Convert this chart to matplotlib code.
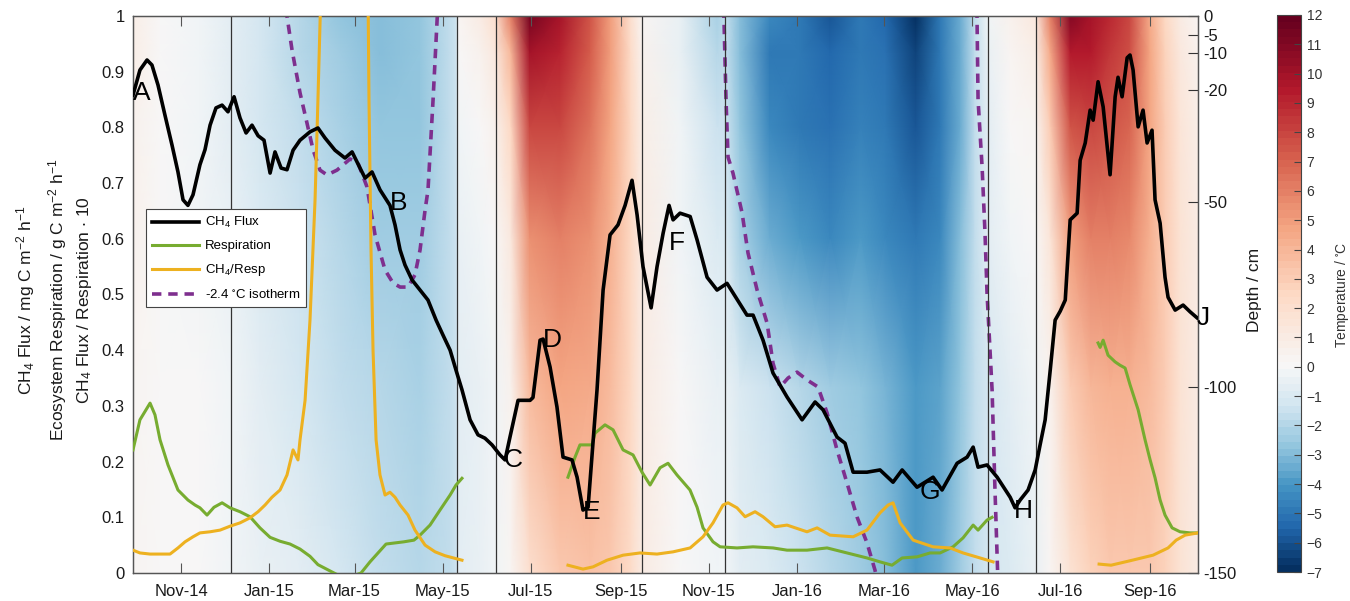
import numpy as np
import matplotlib
matplotlib.use("Agg")
import matplotlib.pyplot as plt
import matplotlib.dates as mdates
from matplotlib.colors import ListedColormap
from matplotlib.lines import Line2D

plt.rcParams["font.family"] = ["Liberation Sans", "DejaVu Sans"]
plt.rcParams["mathtext.fontset"] = "custom"
plt.rcParams["mathtext.rm"] = "Liberation Sans"
plt.rcParams["mathtext.it"] = "Liberation Sans:italic"
plt.rcParams["mathtext.default"] = "regular"

# all times are days counted from 1 Nov 2014
t0 = mdates.date2num(np.datetime64("2014-11-01"))

# ---- soil temperature field (deg C), one profile per date ----
temp_depths = [0, -10, -30, -60, -100, -150]
temp_days = [-33, -14.5, 13, 34.6, 54.6, 82, 110, 137.6, 165, 186, 190, 192,
             207, 217, 228, 241, 262, 283, 297, 311, 319, 345, 371, 377,
             386.5, 407, 428, 449, 470, 487, 508, 525, 539, 549, 558, 573,
             591, 601, 615, 629, 642.5, 656, 670, 680.5, 691, 703]
temp_profiles = [
    [0.8, 0.7, 0.6, 0.5, 0.4, 0.3],
    [0.1, 0.1, 0.1, 0.1, 0.1, 0.1],
    [-0.3, -0.3, -0.2, -0.1, 0.0, 0.0],
    [-0.8, -0.8, -0.6, -0.4, -0.3, -0.2],
    [-1.3, -1.3, -1.1, -0.9, -0.6, -0.4],
    [-2.0, -2.0, -1.8, -1.5, -1.1, -0.8],
    [-2.6, -2.5, -2.3, -2.0, -1.6, -1.3],
    [-3.0, -2.9, -2.8, -2.5, -2.0, -1.7],
    [-2.8, -2.8, -2.7, -2.5, -2.2, -2.0],
    [-1.8, -1.8, -1.8, -1.8, -1.8, -1.7],
    [-1.5, -1.5, -1.5, -1.5, -1.5, -1.5],
    [0.3, 0.1, -0.2, -0.5, -0.6, -0.6],
    [1.0, 0.6, 0.1, -0.3, -0.4, -0.4],
    [2.0, 1.3, 0.5, 0.0, -0.1, -0.2],
    [6.0, 4.0, 2.5, 1.3, 0.6, 0.3],
    [11.5, 10.0, 8.0, 5.5, 3.8, 2.0],
    [10.0, 9.2, 8.0, 6.0, 4.6, 3.3],
    [7.5, 7.2, 6.5, 5.5, 4.5, 3.6],
    [5.0, 5.0, 4.8, 4.3, 3.8, 3.2],
    [2.0, 2.2, 2.4, 2.5, 2.4, 2.2],
    [0.4, 0.6, 0.8, 1.0, 1.0, 1.0],
    [-0.5, -0.4, -0.3, -0.1, 0.0, 0.1],
    [-2.2, -2.0, -1.5, -1.0, -0.5, -0.2],
    [-1.6, -1.6, -1.4, -1.0, -0.5, -0.3],
    [-3.0, -3.0, -2.8, -2.2, -1.0, -0.6],
    [-4.5, -4.8, -4.5, -3.5, -1.5, -1.0],
    [-5.0, -5.0, -4.8, -4.0, -2.0, -1.5],
    [-6.0, -5.5, -5.2, -4.5, -2.5, -2.0],
    [-5.0, -4.8, -4.6, -4.0, -2.8, -2.5],
    [-5.5, -5.2, -5.0, -4.5, -3.2, -3.0],
    [-7.0, -6.5, -6.0, -5.0, -4.0, -3.8],
    [-5.0, -5.0, -4.8, -4.3, -3.6, -3.4],
    [-3.5, -3.5, -3.4, -3.0, -2.6, -2.4],
    [-1.8, -1.8, -1.8, -1.8, -1.7, -1.6],
    [-0.3, -0.4, -0.6, -0.8, -1.2, -1.3],
    [0.5, 0.3, 0.0, -0.3, -0.7, -0.9],
    [1.2, 0.8, 0.4, 0.0, -0.3, -0.5],
    [6.0, 4.5, 3.0, 1.5, 0.6, 0.2],
    [11.0, 9.5, 7.5, 5.0, 3.0, 1.8],
    [10.0, 9.3, 8.0, 6.0, 4.0, 2.8],
    [9.0, 8.5, 7.5, 6.0, 4.3, 3.2],
    [8.0, 7.8, 7.0, 5.7, 4.3, 3.3],
    [4.5, 4.7, 4.8, 4.3, 3.8, 3.2],
    [2.5, 2.8, 3.0, 3.0, 2.9, 2.7],
    [1.0, 1.2, 1.5, 1.7, 1.8, 1.8],
    [0.4, 0.5, 0.7, 0.9, 1.0, 1.0],
]

# ---- CH4 flux ----
flux_days = [-33.2, -28.4, -23.5, -20.1, -15.9, -11.1, -6.2, -2.1, 1.4, 4.8, 8.3,
             13.1, 16.6, 20.1, 24.2, 28.4, 32.5, 36.7, 40.8, 45.0, 49.1, 53.3,
             57.4, 61.6, 65.0, 69.2, 73.3, 77.5, 82.3, 89.2, 94.7, 99.6, 106.5,
             113.4, 118.3, 123.8, 127.3, 132.1, 137.6, 144.5, 148.0, 151.5,
             154.9, 159.8, 165.3, 170.8, 176.4, 181.2, 186.1, 190.2, 194.3,
             199.9, 205.4, 210.2, 215.1, 220.6, 224.1, 227.5, 233.1, 241.4,
             243.4, 248.3, 250.4, 255.2, 260.0, 264.2, 270.4, 273.9, 278.0,
             281.5, 287.7, 291.9, 296.7, 302.2, 307.1, 311.9, 315.4, 319.5,
             325.1, 329.2, 333.4, 337.5, 340.3, 345.1, 352.1, 356.9, 363.8,
             370.7, 377.6, 381.7, 391.4, 395.6, 402.5, 409.4, 419.1, 429.5,
             438.5, 444.0, 453.7, 459.2, 464.8, 474.4, 483.4, 492.4, 498.7,
             509.0, 520.1, 526.3, 536.7, 543.6, 547.8, 551.2, 557.4, 564.4,
             573.4, 576.8, 580.3, 585.8, 590.7, 594.1, 597.6, 601.1, 604.5,
             608.0, 611.5, 614.9, 619.7, 621.8, 625.3, 628.7, 630.8, 634.2,
             637.7, 642.5, 646.0, 648.0, 650.8, 654.3, 656.3, 658.4, 661.9,
             665.3, 668.1, 671.5, 673.6, 677.1, 680.5, 682.6, 687.5, 693.0,
             697.8, 702.7]
flux_vals = [0.858, 0.903, 0.921, 0.912, 0.876, 0.822, 0.768, 0.72, 0.67, 0.66,
             0.679, 0.733, 0.76, 0.804, 0.835, 0.84, 0.828, 0.855, 0.817, 0.79,
             0.804, 0.785, 0.777, 0.718, 0.756, 0.727, 0.724, 0.759, 0.777,
             0.792, 0.799, 0.781, 0.759, 0.745, 0.756, 0.727, 0.709, 0.72,
             0.688, 0.66, 0.625, 0.58, 0.553, 0.526, 0.508, 0.49, 0.454, 0.427,
             0.4, 0.364, 0.329, 0.275, 0.248, 0.242, 0.23, 0.212, 0.203, 0.244,
             0.31, 0.31, 0.315, 0.418, 0.42, 0.37, 0.298, 0.208, 0.203, 0.172,
             0.113, 0.118, 0.329, 0.508, 0.607, 0.625, 0.66, 0.705, 0.643,
             0.55, 0.476, 0.55, 0.61, 0.66, 0.634, 0.646, 0.64, 0.598, 0.531,
             0.508, 0.52, 0.503, 0.463, 0.463, 0.418, 0.359, 0.316, 0.275,
             0.307, 0.293, 0.244, 0.233, 0.181, 0.181, 0.185, 0.163, 0.185,
             0.154, 0.172, 0.149, 0.197, 0.208, 0.226, 0.19, 0.194, 0.172,
             0.136, 0.117, 0.131, 0.149, 0.185, 0.23, 0.275, 0.364, 0.454,
             0.47, 0.49, 0.634, 0.646, 0.741, 0.772, 0.831, 0.813, 0.882,
             0.837, 0.715, 0.855, 0.89, 0.855, 0.925, 0.93, 0.903, 0.801,
             0.831, 0.772, 0.795, 0.67, 0.628, 0.531, 0.495, 0.472, 0.481,
             0.469, 0.458]

# ---- ecosystem respiration (three measuring seasons) ----
resp_days_1 = [-33.2, -28.4, -21.4, -18.0, -14.5, -9.0, -2.1, 4.8, 9.7, 13.1,
               18.0, 22.8, 28.4, 33.9, 40.8, 47.7, 54.6, 61.6, 68.5, 75.4, 82.3,
               89.2, 94.7, 105.8, 113.4, 124.5, 130.7, 141.8, 154.2, 161.1,
               165.3, 172.2, 179.1, 186.1, 190.2, 194.3]
resp_vals_1 = [0.221, 0.275, 0.305, 0.284, 0.239, 0.194, 0.149, 0.131, 0.122,
               0.117, 0.104, 0.118, 0.126, 0.117, 0.11, 0.101, 0.081, 0.064,
               0.057, 0.052, 0.043, 0.03, 0.015, 0.0, -0.01, 0.0, 0.02, 0.052,
               0.056, 0.059, 0.068, 0.086, 0.113, 0.14, 0.158, 0.17]
resp_days_2 = [267.6, 272.5, 275.9, 284.2, 286.3, 293.2, 298.8, 305.7, 312.6,
               318.8, 324.4, 331.3, 336.8, 343.0, 352.0, 356.9, 361.0, 367.9,
               372.8, 384.5, 395.6, 409.4, 419.1, 432.9, 446.8, 460.6, 474.4,
               483.4, 491.7, 498.7, 509.0, 518.0, 524.9, 533.9, 540.8, 547.8,
               551.2, 557.4, 560.9]
resp_vals_2 = [0.172, 0.208, 0.23, 0.23, 0.251, 0.266, 0.257, 0.221, 0.212,
               0.181, 0.158, 0.189, 0.197, 0.176, 0.149, 0.118, 0.081, 0.056,
               0.047, 0.045, 0.047, 0.045, 0.041, 0.041, 0.045, 0.036, 0.027,
               0.02, 0.014, 0.027, 0.029, 0.036, 0.036, 0.047, 0.063, 0.086,
               0.077, 0.095, 0.1]
resp_days_3 = [634.2, 635.6, 637.7, 641.1, 646.0, 649.4, 652.9, 656.3, 661.9,
               666.7, 670.2, 673.6, 677.1, 680.5, 685.4, 690.9, 697.8, 703.3]
resp_vals_3 = [0.413, 0.405, 0.418, 0.391, 0.379, 0.373, 0.368, 0.338, 0.293,
               0.239, 0.203, 0.171, 0.131, 0.104, 0.081, 0.074, 0.072, 0.072]

# ---- CH4 / respiration ratio (x10) ----
ratio_days_1 = [-33.2, -28.4, -21.4, -7.6, -2.1, 2.8, 8.3, 13.1, 20.1, 27.0,
                33.9, 40.8, 47.7, 53.3, 58.1, 62.9, 68.5, 73.3, 77.5, 80.9,
                82.3, 85.8, 89.2, 92.7, 94.7, 96.8, 113.4, 129.3, 130.0, 131.4,
                132.8, 134.9, 137.6, 141.1, 144.5, 148.0, 151.5, 157.0, 161.8,
                168.8, 175.7, 182.6, 194.3]
ratio_vals_1 = [0.041, 0.036, 0.034, 0.034, 0.045, 0.056, 0.065, 0.072, 0.074,
                0.077, 0.084, 0.09, 0.099, 0.11, 0.122, 0.136, 0.149, 0.176,
                0.221, 0.203, 0.239, 0.31, 0.454, 0.67, 0.85, 1.05, 1.5, 1.05,
                0.85, 0.58, 0.4, 0.239, 0.176, 0.14, 0.145, 0.136, 0.122, 0.104,
                0.077, 0.05, 0.038, 0.031, 0.023]
ratio_days_2 = [267.6, 278.0, 284.9, 294.6, 305.7, 317.4, 329.2, 340.3, 352.1,
                361.0, 367.9, 374.8, 378.3, 384.5, 390.1, 397.0, 402.5, 410.8,
                419.1, 432.9, 439.9, 448.8, 464.8, 474.4, 483.4, 489.0, 492.4,
                497.3, 506.3, 520.1, 531.8, 540.8, 552.6, 561.6]
ratio_vals_2 = [0.014, 0.007, 0.011, 0.023, 0.032, 0.036, 0.034, 0.038, 0.045,
                0.065, 0.09, 0.122, 0.126, 0.117, 0.101, 0.11, 0.101, 0.083,
                0.086, 0.074, 0.081, 0.068, 0.065, 0.077, 0.108, 0.122, 0.126,
                0.09, 0.059, 0.047, 0.045, 0.036, 0.027, 0.02]
ratio_days_3 = [634.9, 643.2, 656.3, 672.2, 682.6, 688.2, 694.4, 703.3]
ratio_vals_3 = [0.016, 0.014, 0.022, 0.032, 0.045, 0.059, 0.068, 0.072]

# ---- -2.4 degC isotherm depth (cm) ----
iso_days_1 = [72.5, 76.8, 82.3, 87.1, 91.3, 96.1, 101.0, 107.9, 116.9, 122.4,
              128.6, 134.2, 141.1, 146.6, 151.5, 157.0, 161.8, 165.3, 168.8,
              170.8, 174.3, 177.5]
iso_depth_1 = [2, -9.2, -20.7, -28.8, -36, -41.5, -42.8, -41.5, -38.5, -39.6,
               -46, -59, -68.4, -71.9, -73, -73, -69.7, -63, -52.2, -46.9,
               -22.6, 2]
iso_days_2 = [375.3, 376.9, 378.3, 381.7, 388.0, 392.1, 398.4, 405.3, 409.4,
              414.3, 419.8, 426.0, 432.9, 440.5, 446.8, 453.7, 460.6, 467.5,
              474.4, 479.9, 482.0]
iso_depth_2 = [2, -22.6, -38, -42.3, -53, -63.8, -73.8, -82.7, -93.5, -99.9,
               -97.5, -95.9, -98, -99.9, -106.9, -116.9, -125.8, -134.9, -141.9,
               -149.2, -153]
iso_days_3 = [550.4, 551.2, 554.0, 556.0, 557.4, 560.9, 562.9, 564.4, 565.0]
iso_depth_3 = [2, -22.6, -40.7, -58.4, -74.6, -100.7, -127.6, -145.7, -153]

# season boundaries
boundary_days = [34.6, 190.9, 217.6, 319.0, 375.9, 558.3, 591.3]

# point labels
label_text = ["A", "B", "C", "D", "E", "F", "G", "H", "J"]
label_days = [-26.9, 150.8, 229.6, 256.6, 284.2, 343.0, 518.0, 582.3, 706.8]
label_vals = [0.862, 0.664, 0.203, 0.418, 0.11, 0.592, 0.145, 0.111, 0.458]

depth_ticks = [-150, -100, -50, -20, -10, -5, 0]


def T(days):
    return t0 + np.asarray(days, dtype=float)


# asymmetric diverging colour map: white at 0, navy at -7, dark red at 12
base = plt.get_cmap("RdBu_r")
levels = np.linspace(-7, 12, 77)
pos = np.where(levels < 0, 0.5 + 0.5 * levels / 7, 0.5 + 0.5 * levels / 12)
cmap = ListedColormap(base(pos))

W, H = 1350, 601
fig = plt.figure(figsize=(13.5, 6.01), dpi=100)
ax = fig.add_axes([133 / W, 1 - 573 / H, 1065 / W, 557 / H])
ax2 = ax.twinx()
ax.set_zorder(ax2.get_zorder() + 1)
ax.patch.set_visible(False)

# temperature field on the depth axis
X, Y = np.meshgrid(T(temp_days), temp_depths)
C = np.array(temp_profiles).T
mesh = ax2.pcolormesh(X, Y, C, cmap=cmap, vmin=-7, vmax=12,
                      shading="gouraud", zorder=0, rasterized=True)

purple = "#7E2F8E"
for d, z in [(iso_days_1, iso_depth_1), (iso_days_2, iso_depth_2),
             (iso_days_3, iso_depth_3)]:
    ax2.plot(T(d), z, color=purple, lw=2.6, ls=(0, (2.6, 1.9)), zorder=3)

ax2.set_ylim(-150, 0)
ax2.set_yticks(depth_ticks)
ax2.set_yticklabels([str(v) for v in depth_ticks])
ax2.tick_params(axis="y", direction="in", length=7, labelsize=12,
                colors="#333333", labelcolor="#1a1a1a", pad=4)

for d in boundary_days:
    ax.axvline(T([d])[0], color="#333333", lw=0.9, zorder=1)

green = "#77AC30"
orange = "#EDB120"
for d, v in [(resp_days_1, resp_vals_1), (resp_days_2, resp_vals_2),
             (resp_days_3, resp_vals_3)]:
    ax.plot(T(d), v, color=green, lw=2.2, zorder=4)
for d, v in [(ratio_days_1, ratio_vals_1), (ratio_days_2, ratio_vals_2),
             (ratio_days_3, ratio_vals_3)]:
    ax.plot(T(d), v, color=orange, lw=2.2, zorder=4)
ax.plot(T(flux_days), flux_vals, color="black", lw=2.6, zorder=5)

for s, d, v in zip(label_text, label_days, label_vals):
    ax.text(T([d])[0], v, s, fontsize=19, ha="center", va="center",
            zorder=6, clip_on=False)

ax.set_xlim(T([-33.2])[0], T([703.3])[0])
ax.set_ylim(0, 1)
ax.set_yticks(np.round(np.arange(0, 1.01, 0.1), 1))
ax.set_yticklabels(["0"] + [f"{v:.1f}" for v in np.arange(0.1, 0.95, 0.1)] + ["1"])
ax.xaxis.set_major_locator(mdates.MonthLocator(bymonth=[1, 3, 5, 7, 9, 11]))
ax.xaxis.set_major_formatter(mdates.DateFormatter("%b-%y"))
ax.tick_params(axis="x", direction="in", top=True, length=7, labelsize=12,
               colors="#555555", labelcolor="#1a1a1a", pad=8)
ax.tick_params(axis="y", direction="in", length=0, labelsize=12,
               labelcolor="#1a1a1a", pad=6)
for a in (ax, ax2):
    for sp in a.spines.values():
        sp.set_color("#555555")
        sp.set_linewidth(0.9)

handles = [
    Line2D([], [], color="black", lw=2.6),
    Line2D([], [], color=green, lw=2.2),
    Line2D([], [], color=orange, lw=2.2),
    Line2D([], [], color=purple, lw=2.6, ls=(0, (2.6, 1.9))),
]
labels = ["CH$_4$ Flux", "Respiration", "CH$_4$/Resp", "-2.4 $^{\\circ}$C isotherm"]
leg = ax.legend(handles, labels, loc="upper left", bbox_to_anchor=(0.012, 0.653),
                fontsize=9.5, frameon=True, fancybox=False, framealpha=1,
                edgecolor="#444444", handlelength=3.6, handletextpad=0.45,
                labelspacing=0.75, borderpad=0.45, borderaxespad=0)
leg.get_frame().set_linewidth(0.8)
leg.set_zorder(10)

# left axis labels (three stacked lines)
ylabels = ["CH$_4$ Flux / mg C m$^{-2}$ h$^{-1}$",
           "Ecosystem Respiration / g C m$^{-2}$ h$^{-1}$",
           "CH$_4$ Flux / Respiration $\\cdot$ 10"]
for xp, s in zip([26, 58, 84], ylabels):
    fig.text(xp / W, 1 - 300 / H, s, rotation=90, ha="center", va="center",
             fontsize=12.5, color="#1a1a1a")
fig.text(1255 / W, 1 - 290 / H, "Depth / cm", rotation=90, ha="center",
         va="center", fontsize=12.5, color="#1a1a1a")

# colour bar
cax = fig.add_axes([1277 / W, 1 - 572 / H, 24 / W, 557 / H])
cb = fig.colorbar(mesh, cax=cax, ticks=range(-7, 13))
cb.outline.set_edgecolor("#444444")
cb.outline.set_linewidth(0.8)
cax.tick_params(direction="in", length=5, labelsize=10, colors="#444444",
                labelcolor="#333333", pad=4)
fig.text(1342 / W, 1 - 295 / H, "Temperature / $^{\\circ}$C", rotation=90,
         ha="center", va="center", fontsize=10, color="#333333")

fig.savefig("out.png", dpi=100)
